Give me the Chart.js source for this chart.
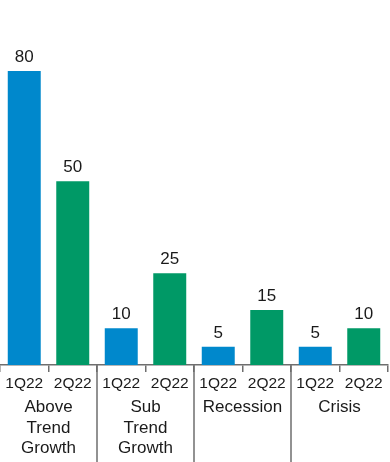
<!DOCTYPE html>
<html>
<head>
<meta charset="utf-8">
<script src="https://cdn.jsdelivr.net/npm/chart.js@4/dist/chart.umd.min.js"></script>
<style>
  html, body { margin: 0; padding: 0; background: #fff; }
  #wrap { width: 390px; height: 462px; position: relative; }
</style>
</head>
<body>
<div id="wrap"><canvas id="chart"></canvas></div>
<script>
// Chart data
const scenarios = [['Above', 'Trend', 'Growth'], ['Sub', 'Trend', 'Growth'], ['Recession'], ['Crisis']];
const quarters = ['1Q22', '2Q22'];
const q1Values = [80, 10, 5, 5];
const q2Values = [50, 25, 15, 10];

const blue = '#0088cc';
const green = '#009966';
const axisGray = '#6e6e6e';
const fontFamily = '"Liberation Sans", Arial, sans-serif';

// one bar per quarter per scenario
const labels = [];
const values = [];
const colors = [];
scenarios.forEach((s, i) => {
  labels.push(quarters[0], quarters[1]);
  values.push(q1Values[i], q2Values[i]);
  colors.push(blue, green);
});

// value labels above bars
const valueLabels = {
  id: 'valueLabels',
  afterDatasetsDraw(chart) {
    const ctx = chart.ctx;
    const meta = chart.getDatasetMeta(0);
    ctx.save();
    ctx.font = '17px ' + fontFamily;
    ctx.fillStyle = '#1a1a1a';
    ctx.textAlign = 'center';
    ctx.textBaseline = 'alphabetic';
    meta.data.forEach((bar, i) => {
      ctx.fillText(values[i], bar.x, bar.y - 9);
    });
    ctx.restore();
  }
};

// long separators between scenarios
const groupLines = {
  id: 'groupLines',
  afterDraw(chart) {
    const ctx = chart.ctx;
    const x = chart.scales.x;
    ctx.save();
    ctx.strokeStyle = axisGray;
    ctx.lineWidth = 1.5;
    for (let i = 1; i < scenarios.length; i++) {
      const px = (x.getPixelForTick(i * 2 - 1) + x.getPixelForTick(i * 2)) / 2;
      ctx.beginPath();
      ctx.moveTo(px, chart.chartArea.bottom);
      ctx.lineTo(px, chart.height);
      ctx.stroke();
    }
    ctx.restore();
  }
};

new Chart(document.getElementById('chart'), {
  type: 'bar',
  data: {
    labels: labels,
    datasets: [{
      data: values,
      backgroundColor: colors,
      borderWidth: 0,
      barPercentage: 0.68,
      categoryPercentage: 1
    }]
  },
  options: {
    responsive: true,
    maintainAspectRatio: false,
    animation: false,
    layout: { padding: { top: 71, left: 0, right: 2, bottom: 0 } },
    plugins: {
      legend: { display: false },
      tooltip: { enabled: false }
    },
    scales: {
      y: {
        display: false,
        min: 0,
        max: 80
      },
      x: {
        position: 'bottom',
        offset: true,
        grid: {
          offset: true,
          drawOnChartArea: false,
          tickLength: 7,
          color: axisGray,
          lineWidth: 1.5
        },
        border: { display: true, color: axisGray, width: 1.5 },
        ticks: {
          color: '#1a1a1a',
          padding: 2,
          maxRotation: 0,
          autoSkip: false,
          font: { family: fontFamily, size: 15.5, lineHeight: 1.2 }
        },
        afterFit(scale) { scale.height = 26; }
      },
      x2: {
        type: 'category',
        position: 'bottom',
        labels: scenarios,
        offset: true,
        grid: { display: false, drawTicks: false },
        border: { display: false },
        ticks: {
          color: '#1a1a1a',
          padding: 6.5,
          maxRotation: 0,
          autoSkip: false,
          font: { family: fontFamily, size: 17, lineHeight: 1.2 }
        },
        afterFit(scale) { scale.height = 71; }
      }
    }
  },
  plugins: [valueLabels, groupLines]
});
</script>
</body>
</html>
